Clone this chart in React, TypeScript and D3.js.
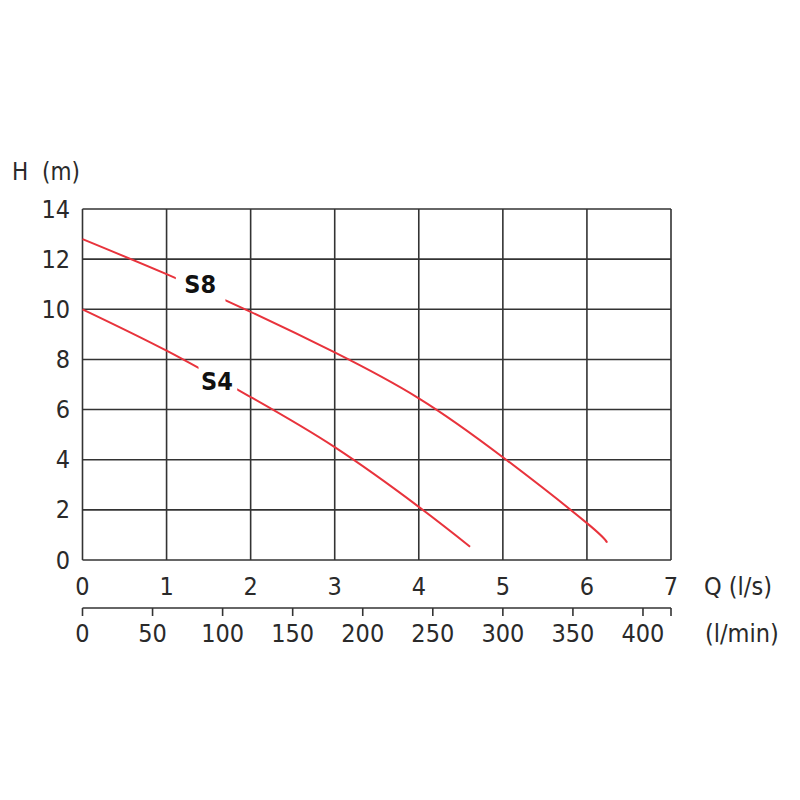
import React from "react";
import * as d3 from "d3";

const qTicks = [0, 1, 2, 3, 4, 5, 6, 7];
const lminTicks = [0, 50, 100, 150, 200, 250, 300, 350, 400];
const hTicks = [0, 2, 4, 6, 8, 10, 12, 14];

const s8Q = [0, 1, 2, 3, 4, 5, 6, 6.24];
const s8H = [12.8, 11.4, 9.9, 8.28, 6.45, 4.1, 1.47, 0.69];
const s4Q = [0, 1, 2, 3, 4, 4.61];
const s4H = [10.0, 8.35, 6.5, 4.5, 2.12, 0.53];

const series = [
  { name: "S8", q: s8Q, h: s8H, gap: [1.11, 1.7], label: [1.40, 11.0] },
  { name: "S4", q: s4Q, h: s4H, gap: [1.38, 1.84], label: [1.60, 7.1] },
];

const FONT = "'DejaVu Sans Condensed', 'Liberation Sans Narrow', sans-serif";
const GRID = "#333";
const RED = "#e8333c";
const TXT = "#2a2a2a";

export default function App() {
  const x = d3.scaleLinear().domain([0, 7]).range([82.5, 671]);
  const xl = d3.scaleLinear().domain([0, 420]).range([82.5, 671]);
  const y = d3.scaleLinear().domain([0, 14]).range([560, 209]);
  const line = d3
    .line<[number, number]>()
    .x((d) => x(d[0]))
    .y((d) => y(d[1]))
    .curve(d3.curveNatural);
  const axis2Y = 608;

  return (
    <svg
      width={800}
      height={800}
      style={{ position: "absolute", left: 0, top: 0, background: "#fff" }}
      fontFamily={FONT}
    >
      <rect width={800} height={800} fill="#fff" />
      <defs>
        {series.map((s) => (
          <mask id={"m" + s.name} key={s.name} maskUnits="userSpaceOnUse">
            <rect x={0} y={0} width={800} height={800} fill="#fff" />
            <rect
              x={x(s.gap[0])}
              y={0}
              width={x(s.gap[1]) - x(s.gap[0])}
              height={800}
              fill="#000"
            />
          </mask>
        ))}
      </defs>
      {qTicks.map((t) => (
        <line key={"gx" + t} x1={x(t)} x2={x(t)} y1={y(0)} y2={y(14)} stroke={GRID} strokeWidth={1.6} />
      ))}
      {hTicks.map((t) => (
        <line key={"gy" + t} x1={x(0)} x2={x(7)} y1={y(t)} y2={y(t)} stroke={GRID} strokeWidth={1.6} />
      ))}
      {series.map((s) => (
        <path
          key={s.name}
          d={line(s.q.map((q, i) => [q, s.h[i]] as [number, number])) || ""}
          fill="none"
          stroke={RED}
          strokeWidth={2}
          mask={`url(#m${s.name})`}
        />
      ))}
      {series.map((s) => (
        <text
          key={"l" + s.name}
          x={x(s.label[0])}
          y={y(s.label[1])}
          textAnchor="middle"
          dominantBaseline="central"
          fontSize={25}
          fontWeight="bold"
          fill="#111"
        >
          {s.name}
        </text>
      ))}
      {hTicks.map((t) => (
        <text key={"yl" + t} x={70} y={y(t)} textAnchor="end" dominantBaseline="central" fontSize={25} fill={TXT}>
          {t}
        </text>
      ))}
      <text x={12} y={172} dominantBaseline="central" fontSize={24} fill={TXT} style={{ whiteSpace: "pre" }}>
        {"H  (m)"}
      </text>
      {qTicks.map((t) => (
        <text key={"xl" + t} x={x(t)} y={586} textAnchor="middle" dominantBaseline="central" fontSize={25} fill={TXT}>
          {t}
        </text>
      ))}
      <text x={704} y={586} dominantBaseline="central" fontSize={25} fill={TXT}>
        Q (l/s)
      </text>
      <line x1={xl(0)} x2={xl(420)} y1={axis2Y} y2={axis2Y} stroke={GRID} strokeWidth={1.6} />
      {[...lminTicks, 420].map((t) => (
        <line key={"t2" + t} x1={xl(t)} x2={xl(t)} y1={axis2Y} y2={axis2Y + 8} stroke={GRID} strokeWidth={1.6} />
      ))}
      {lminTicks.map((t) => (
        <text key={"l2" + t} x={xl(t)} y={633} textAnchor="middle" dominantBaseline="central" fontSize={25} fill={TXT}>
          {t}
        </text>
      ))}
      <text x={705} y={633} dominantBaseline="central" fontSize={25} fill={TXT}>
        (l/min)
      </text>
    </svg>
  );
}
